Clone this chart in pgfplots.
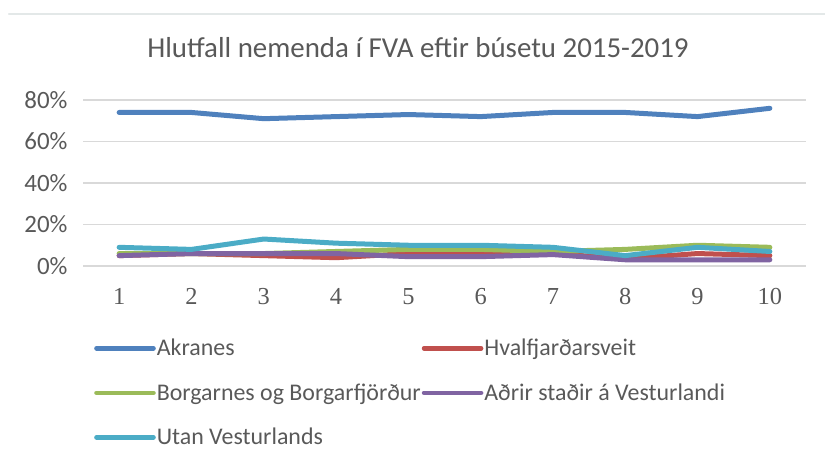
\documentclass[border=0pt]{standalone}
\usepackage{fontspec}
\setmainfont{Carlito}
\newfontfamily\tickserif{Liberation Serif}
\usepackage{pgfplots}
\pgfplotsset{compat=1.18}
\usepackage{pgfplotstable}

\definecolor{txt}{HTML}{595959}
\definecolor{gridc}{HTML}{D9D9D9}
\definecolor{edge}{HTML}{E3E8E8}
\definecolor{cA}{HTML}{4F81BD}
\definecolor{cH}{HTML}{C0504D}
\definecolor{cB}{HTML}{9BBB59}
\definecolor{cO}{HTML}{8064A2}
\definecolor{cU}{HTML}{4BACC6}

\pgfplotstableread{
x  akr hval borg adrir utan
1  74  5    6    5     9
2  74  6    6    6     8
3  71  5    6    6     13
4  72  4    7    6     11
5  73  6    8    4.5   10
6  72  6    8    4.5   10
7  74  6    7    5.5   9
8  74  3.5  8    3     5
9  72  6    10   3     9
10 76  5    9    3     7
}\data

\begin{document}
\begin{tikzpicture}
\useasboundingbox (0bp,0bp) rectangle (825bp,464bp);
% faint frame edge at the top
\draw[edge, line width=2.5bp, line cap=round] (9bp,450bp) -- (825bp,450bp);
\node[txt,font=\fontsize{29}{34}\selectfont] at (418bp,416bp) {Hlutfall nemenda í FVA eftir búsetu 2015-2019};
\begin{axis}[
    at={(83bp,198bp)}, anchor=south west,
    width=723bp, height=166bp, scale only axis,
    xmin=0.5, xmax=10.5, ymin=0, ymax=80,
    xtick={1,...,10}, ytick={0,20,40,60,80},
    yticklabel={\pgfmathprintnumber{\tick}\%},
    /pgf/number format/assume math mode=true,
    xticklabel style={font=\tickserif\fontsize{24.5}{28}\selectfont, text=txt, yshift=-19bp},
    yticklabel style={font=\fontsize{25}{29}\selectfont, text=txt, xshift=-12bp},
    axis line style={draw=none},
    major tick length=0pt,
    ymajorgrids, grid style={gridc, line width=1.5bp},
    every axis plot/.append style={line width=5bp, line join=round, line cap=round},
    legend style={at={(8bp,-69bp)}, anchor=north west, draw=none, fill=none,
        font=\fontsize{24}{28}\selectfont, text=txt,
        legend cell align=left, row sep=22.5bp,
        /tikz/every odd column/.append style={column sep=0bp},
        nodes={inner xsep=1bp}},
    legend columns=2,
    legend image code/.code={\draw[#1, line width=4.6bp, line cap=round] (0bp,0bp) -- (57bp,0bp);},
    clip=false,
]
\addplot[cA] table[x=x,y=akr] {\data};
\addlegendentry{Akranes}
\addplot[cH] table[x=x,y=hval] {\data};
\addlegendentry{Hvalfjarðarsveit}
\addplot[cB] table[x=x,y=borg] {\data};
\addlegendentry{Borgarnes og Borgarfjörður}
\addplot[cO] table[x=x,y=adrir] {\data};
\addlegendentry{Aðrir staðir á Vesturlandi}
\addplot[cU] table[x=x,y=utan] {\data};
\addlegendentry{Utan Vesturlands}
\end{axis}
\end{tikzpicture}
\end{document}
